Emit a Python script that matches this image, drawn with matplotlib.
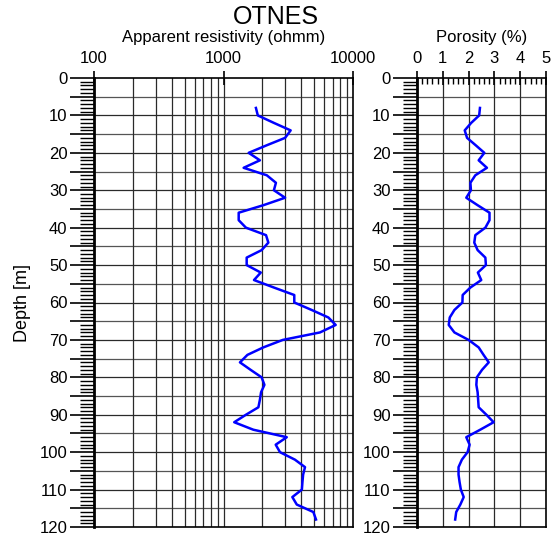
import numpy as np
import matplotlib.pyplot as plt
from matplotlib.ticker import MultipleLocator, LogLocator, NullFormatter, FuncFormatter

plt.rcParams['font.family'] = ['Liberation Sans', 'DejaVu Sans']

depth = list(range(8, 120, 2))
resistivity = [1780, 1840, 2450, 3300, 2990, 2150, 1565, 1910, 1430, 2160,
               2540, 2450, 2990, 2030, 1310, 1310, 1490, 2130, 2220, 1970,
               1510, 1510, 1940, 1720, 2450, 3520, 3520, 4800, 6450, 7350,
               5560, 2870, 2030, 1530, 1340, 1620, 1970, 2070, 1950, 1910,
               1860, 1490, 1210, 1700, 3080, 2530, 2730, 3560, 4260, 4120,
               4070, 4030, 3400, 3680, 4940, 5180]
porosity = [2.44, 2.41, 2.10, 1.85, 1.94, 2.28, 2.61, 2.39, 2.71, 2.26,
            2.07, 2.09, 1.91, 2.35, 2.81, 2.81, 2.65, 2.26, 2.22, 2.35,
            2.65, 2.67, 2.36, 2.49, 2.07, 1.77, 1.76, 1.45, 1.27, 1.23,
            1.45, 2.00, 2.39, 2.58, 2.78, 2.52, 2.32, 2.30, 2.35, 2.37,
            2.39, 2.69, 2.97, 2.45, 1.91, 2.04, 1.96, 1.74, 1.61, 1.61,
            1.65, 1.70, 1.81, 1.68, 1.52, 1.48]

fig = plt.figure(figsize=(5.51, 5.37), dpi=100)
W, H = 551, 537
ax1 = fig.add_axes([94 / W, 1 - 527 / H, (353 - 94) / W, (527 - 78) / H])
ax2 = fig.add_axes([417 / W, 1 - 527 / H, (546 - 417) / W, (527 - 78) / H])

grid_col = '#2a2a2a'


def depth_axis(ax):
    ax.set_ylim(120, 0)
    ax.yaxis.set_major_locator(MultipleLocator(5))
    ax.yaxis.set_major_formatter(
        FuncFormatter(lambda v, pos: '%d' % v if round(v) % 10 == 0 else ''))
    ax.yaxis.set_minor_locator(MultipleLocator(1))
    ax.tick_params(axis='y', which='major', direction='out', length=17,
                   width=1.2, labelsize=12, pad=2)
    ax.tick_params(axis='y', which='minor', direction='out', length=10,
                   width=1.0)
    for d in range(5, 120, 5):
        ax.axhline(d, color=grid_col if d % 10 == 0 else '#555555', lw=0.9,
                   zorder=1)
    for s in ax.spines.values():
        s.set_linewidth(1.2)
    ax.spines['left'].set_linewidth(2.0)


# resistivity track
ax1.set_xscale('log')
ax1.set_xlim(100, 10000)
depth_axis(ax1)
ax1.xaxis.set_ticks_position('top')
ax1.xaxis.set_label_position('top')
ax1.xaxis.set_minor_locator(LogLocator(base=10, subs=np.arange(2, 10)))
ax1.xaxis.set_minor_formatter(NullFormatter())
ax1.set_xticks([100, 1000, 10000])
ax1.set_xticklabels(['100', '1000', '10000'])
ax1.tick_params(axis='x', which='major', direction='inout', length=10,
                width=1.2, labelsize=12, pad=4)
ax1.tick_params(axis='x', which='minor', length=0)
for dec in [100, 1000]:
    for m in range(1, 10):
        v = dec * m
        if v > 100:
            ax1.axvline(v, color=grid_col, lw=0.9, zorder=1)
ax1.plot(resistivity, depth, color='#0000ff', lw=1.8, zorder=3)
ax1.set_xlabel('Apparent resistivity (ohmm)', fontsize=12, labelpad=6)
ax1.set_ylabel('Depth [m]', fontsize=13, labelpad=6)

# porosity track
ax2.set_xlim(0, 5)
depth_axis(ax2)
ax2.xaxis.set_ticks_position('top')
ax2.xaxis.set_label_position('top')
ax2.xaxis.set_major_locator(MultipleLocator(1))
ax2.xaxis.set_minor_locator(MultipleLocator(0.2))
ax2.tick_params(axis='x', which='major', direction='inout', length=10,
                width=1.2, labelsize=12, pad=4)
ax2.tick_params(axis='x', which='minor', direction='in', length=4,
                width=1.0)
for p in range(1, 5):
    ax2.axvline(p, color=grid_col, lw=0.9, zorder=1)
ax2.plot(porosity, depth, color='#0000ff', lw=1.8, zorder=3)
ax2.set_xlabel('Porosity (%)', fontsize=12, labelpad=6)

fig.text(0.5, 1 - 17 / H, 'OTNES', ha='center', va='center', fontsize=18)

fig.savefig('out.png', dpi=100)
